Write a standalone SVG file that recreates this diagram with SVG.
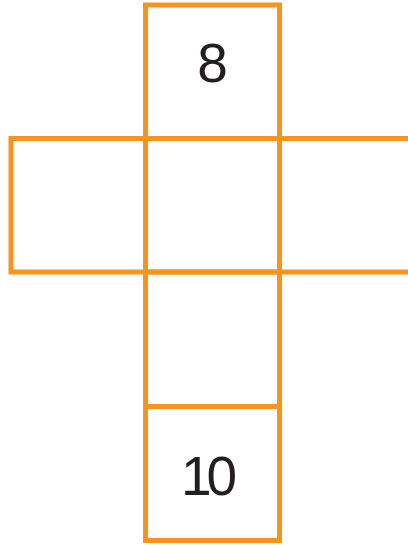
<svg xmlns="http://www.w3.org/2000/svg" width="408" height="545" viewBox="0 0 408 545">
<style>
.f{fill:none;stroke:#F7941D;stroke-width:5}
.t{font-family:"Liberation Sans",Arial,sans-serif;font-size:55px;fill:#231F20}
</style>
<rect width="408" height="545" fill="#fff"/>
<g id="top"><rect class="f" x="145.5" y="5" width="134" height="133.5"/><text class="t" x="212.5" y="82" text-anchor="middle">8</text></g>
<g id="left"><rect class="f" x="11" y="138.5" width="134.5" height="133.5"/></g>
<g id="center"><rect class="f" x="145.5" y="138.5" width="134" height="133.5"/></g>
<g id="right"><path class="f" d="M279.5 138.5H410M279.5 272H410"/></g>
<g id="lower"><rect class="f" x="145.5" y="272" width="134" height="134.5"/></g>
<g id="bottom"><rect class="f" x="145.5" y="406.5" width="134" height="134"/><text class="t" x="181" y="495" letter-spacing="-5">10</text></g>
</svg>
